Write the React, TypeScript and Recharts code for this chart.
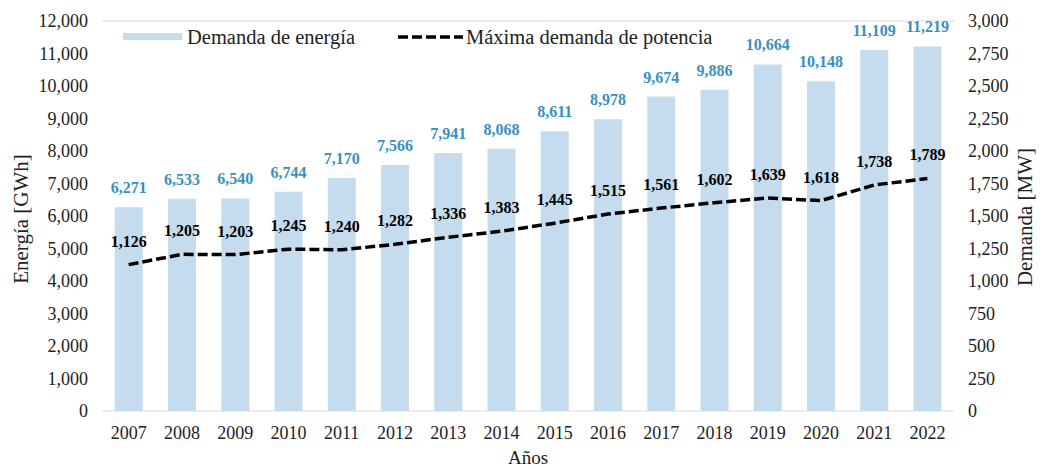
import {
    ComposedChart,
    Bar,
    Line,
    XAxis,
    YAxis,
    CartesianGrid,
    LabelList,
} from "recharts"

const YEARS = [
    "2007", "2008", "2009", "2010", "2011", "2012", "2013", "2014",
    "2015", "2016", "2017", "2018", "2019", "2020", "2021", "2022",
]

// Demanda de energía [GWh]
const ENERGY = [
    6271, 6533, 6540, 6744, 7170, 7566, 7941, 8068,
    8611, 8978, 9674, 9886, 10664, 10148, 11109, 11219,
]

// Máxima demanda de potencia [MW]
const POWER = [
    1126, 1205, 1203, 1245, 1240, 1282, 1336, 1383,
    1445, 1515, 1561, 1602, 1639, 1618, 1738, 1789,
]

const ENERGY_TICKS = [0, 1000, 2000, 3000, 4000, 5000, 6000, 7000, 8000, 9000, 10000, 11000, 12000]
const POWER_TICKS = [0, 250, 500, 750, 1000, 1250, 1500, 1750, 2000, 2250, 2500, 2750, 3000]

const data = YEARS.map((year, i) => ({
    year,
    energy: ENERGY[i],
    power: POWER[i],
}))

const FONT = "'Liberation Serif', 'Times New Roman', serif"
const BAR_COLOR = "#c5dcee"
const BAR_LABEL_COLOR = "#3a90bf"
const TEXT_COLOR = "#222"

const fmt = (v: number) => v.toLocaleString("en-US")

const tickStyle = { fontSize: 18, fontFamily: FONT, fill: TEXT_COLOR }

export default function App() {
    return (
        <div style={{ position: "absolute", left: 0, top: 0, width: 1040, height: 469, background: "#fff" }}>
            <ComposedChart
                width={1040}
                height={469}
                data={data}
                margin={{ top: 21, right: 0, left: 0, bottom: 0 }}
                barCategoryGap="24%"
            >
                <CartesianGrid vertical={false} stroke="#d9d9d9" />
                <XAxis
                    dataKey="year"
                    height={58}
                    axisLine={false}
                    tickLine={false}
                    tickSize={0}
                    tickMargin={15}
                    tick={tickStyle}
                    interval={0}
                    label={{
                        content: () => (
                            <text x={528} y={464} textAnchor="middle" fontSize={19} fontFamily={FONT} fill={TEXT_COLOR}>
                                Años
                            </text>
                        ),
                    }}
                />
                <YAxis
                    yAxisId="left"
                    width={102}
                    domain={[0, 12000]}
                    ticks={ENERGY_TICKS}
                    axisLine={false}
                    tickLine={false}
                    tickSize={0}
                    tickMargin={14}
                    tick={tickStyle}
                    tickFormatter={fmt}
                    label={{
                        content: () => (
                            <text
                                x={28}
                                y={219}
                                textAnchor="middle"
                                transform="rotate(-90 28 219)"
                                fontSize={21}
                                fontFamily={FONT}
                                fill={TEXT_COLOR}
                            >
                                Energía [GWh]
                            </text>
                        ),
                    }}
                />
                <YAxis
                    yAxisId="right"
                    orientation="right"
                    width={86}
                    domain={[0, 3000]}
                    ticks={POWER_TICKS}
                    axisLine={false}
                    tickLine={false}
                    tickSize={0}
                    tickMargin={14}
                    tick={tickStyle}
                    tickFormatter={fmt}
                    label={{
                        content: () => (
                            <text
                                x={1032}
                                y={217}
                                textAnchor="middle"
                                transform="rotate(-90 1032 217)"
                                fontSize={21}
                                fontFamily={FONT}
                                fill={TEXT_COLOR}
                            >
                                Demanda [MW]
                            </text>
                        ),
                    }}
                />
                <Bar yAxisId="left" dataKey="energy" fill={BAR_COLOR} isAnimationActive={false}>
                    <LabelList
                        dataKey="energy"
                        position="top"
                        offset={14}
                        formatter={(v: any) => fmt(Number(v))}
                        style={{ fontSize: 16, fontWeight: 700, fontFamily: FONT, fill: BAR_LABEL_COLOR }}
                    />
                </Bar>
                <Line
                    yAxisId="right"
                    dataKey="power"
                    type="linear"
                    stroke="#000"
                    strokeWidth={3.5}
                    strokeDasharray="10 4"
                    dot={false}
                    activeDot={false}
                    isAnimationActive={false}
                >
                    <LabelList
                        dataKey="power"
                        position="top"
                        offset={18}
                        formatter={(v: any) => fmt(Number(v))}
                        style={{ fontSize: 16, fontWeight: 700, fontFamily: FONT, fill: "#000" }}
                    />
                </Line>
            </ComposedChart>

            {/* legend sits inside the plot area, top-left */}
            <svg
                width={1040}
                height={60}
                style={{ position: "absolute", left: 0, top: 0, pointerEvents: "none" }}
            >
                <rect x={123} y={33} width={59} height={7} fill={BAR_COLOR} />
                <text x={187} y={44} fontSize={20.5} fontFamily={FONT} fill={TEXT_COLOR}>
                    Demanda de energía
                </text>
                <line x1={398} y1={37} x2={463} y2={37} stroke="#000" strokeWidth={3.5} strokeDasharray="10 4" />
                <text x={466} y={44} fontSize={20.5} fontFamily={FONT} fill={TEXT_COLOR}>
                    Máxima demanda de potencia
                </text>
            </svg>
        </div>
    )
}
